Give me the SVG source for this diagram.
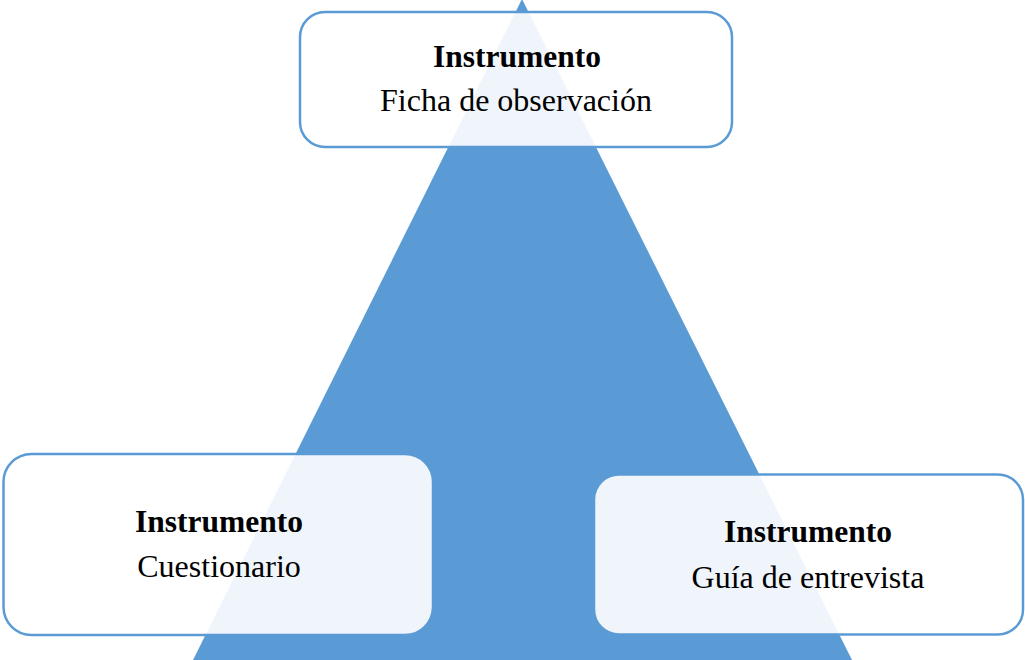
<svg xmlns="http://www.w3.org/2000/svg" width="1025" height="660" viewBox="0 0 1025 660">
  <style>
    .box { fill: #ffffff; fill-opacity: 0.9; stroke: #5b9bd5; stroke-width: 2.5; }
    .t { font-family: "Liberation Serif", "Times New Roman", serif; font-size: 32px; fill: #000; text-anchor: middle; }
    .b { font-weight: bold; font-size: 31.5px; }
  </style>
  <rect x="0" y="0" width="1025" height="660" fill="#ffffff"/>
  <g id="pyramid">
    <polygon points="522,-1 193,660 852,660" fill="#5b9bd5"/>
  </g>
  <g id="connectors"></g>
  <g id="node-top">
    <rect class="box" x="300" y="12" width="432" height="135" rx="25" ry="25"/>
    <text class="t b" x="517" y="66.5">Instrumento</text>
    <text class="t" x="516" y="111">Ficha de observación</text>
  </g>
  <g id="node-left">
    <rect class="box" x="3.5" y="454" width="429.5" height="181" rx="28" ry="28"/>
    <text class="t b" x="219" y="531.5">Instrumento</text>
    <text class="t" x="219" y="577">Cuestionario</text>
  </g>
  <g id="node-right">
    <rect class="box" x="594" y="474.5" width="429" height="160" rx="25" ry="25"/>
    <text class="t b" x="808" y="541.5">Instrumento</text>
    <text class="t" x="808" y="587.5">Guía de entrevista</text>
  </g>
</svg>
